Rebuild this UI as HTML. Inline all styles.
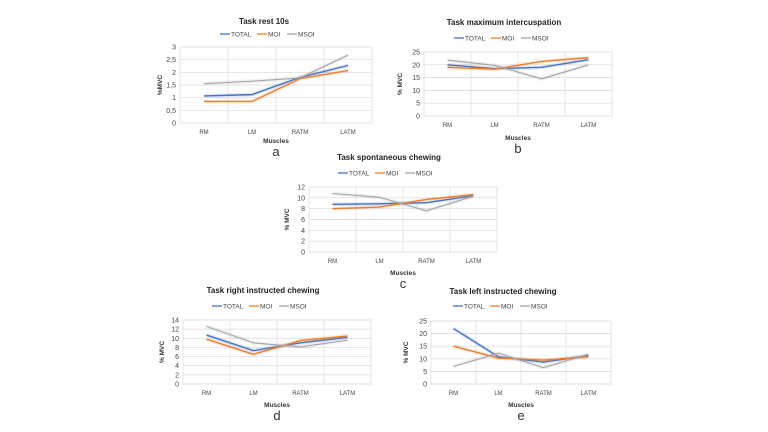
<!DOCTYPE html>
<html><head><meta charset="utf-8"><style>
html,body{margin:0;padding:0;background:#fff;}
svg{display:block;font-family:"Liberation Sans",sans-serif;}
</style></head><body>
<svg id="fig" width="768" height="432" viewBox="0 0 768 432"></svg>
<script>
const categories=["RM","LM","RATM","LATM"];
const seriesNames=["TOTAL","MOI","MSOI"];
const aTotal=[1.07,1.12,1.8,2.27], aMoi=[0.85,0.85,1.75,2.07], aMsoi=[1.55,1.65,1.78,2.68];
const bTotal=[20,18.5,19,22], bMoi=[19,18.3,21.3,22.8], bMsoi=[21.8,19.8,14.5,20];
const cTotal=[8.8,8.9,9.1,10.4], cMoi=[8,8.3,9.7,10.6], cMsoi=[10.8,10.1,7.6,10.3];
const dTotal=[10.7,7.3,9,10.2], dMoi=[9.8,6.5,9.5,10.5], dMsoi=[12.6,9,8.1,9.6];
const eTotal=[22,10.8,8.7,11.3], eMoi=[15,10.3,9.5,10.8], eMsoi=[7,12.2,6.5,11.8];
const aTicks=["0","0,5","1","1,5","2","2,5","3"];
const bTicks=["0","5","10","15","20","25"];
const cTicks=["0","2","4","6","8","10","12"];
const dTicks=["0","2","4","6","8","10","12","14"];
const eTicks=["0","5","10","15","20","25"];
const colors=["#4472c4","#ed7d31","#a5a5a5"];
const NS="http://www.w3.org/2000/svg";
const svg=document.getElementById('fig');
function mk(tag,attrs,parent){const e=document.createElementNS(NS,tag);for(const k in attrs)e.setAttribute(k,attrs[k]);(parent||svg).appendChild(e);return e;}
function txt(s,attrs,parent){const t=mk('text',attrs,parent);t.textContent=s;return t;}
function chart(id,cfg,series,ticks,max,step){
  const g=mk('g',{});
  
  
  const {x0,x1,y0,y1}=cfg;
  const xs=i=>x0+(x1-x0)*(i+0.5)/categories.length;
  const ys=v=>y0-(y0-y1)*v/max;
  const t=txt(cfg.title,{x:cfg.tx,y:cfg.ty,'font-size':8,'font-weight':'bold','text-anchor':'middle',fill:'#222'},g);
  
  
  ticks.forEach((lab,i)=>{
    const v=i*step;
    const gl=mk('line',{x1:x0,x2:x1,y1:ys(v),y2:ys(v),stroke:'#d9d9d9','stroke-width':0.7},g);
    
    
    const tl=txt(lab,{x:x0-4,y:ys(v)+2.5,'font-size':7,'text-anchor':'end',fill:'#444'},g);
    
    
  });
  for(let i=0;i<=categories.length;i++){
    const x=x0+(x1-x0)*i/categories.length;
    const vl=mk('line',{x1:x,x2:x,y1:y1,y2:y0,stroke:'#d9d9d9','stroke-width':0.7},g);
    
    
  }
  categories.forEach((c,i)=>{
    const cl=txt(c,{x:xs(i),y:y0+11,'font-size':6,'text-anchor':'middle',fill:'#444'},g);
    
    
  });
  series.forEach((vals,s)=>{
    const pts=vals.map((v,i)=>xs(i)+','+ys(v)).join(' ');
    const gl=mk('polyline',{points:pts,fill:'none',stroke:colors[s],'stroke-width':4,'stroke-opacity':0.15,'stroke-linejoin':'round'},g);
    
    
    const p=mk('polyline',{points:pts,fill:'none',stroke:colors[s],'stroke-width':s==2?1.1:1.4},g);
    
    
  });
  const lx=cfg.lx, ly=cfg.ly;
  const offs=[0,37,67];
  seriesNames.forEach((n,s)=>{
    const lg=mk('g',{},g);
    
    
    mk('line',{x1:lx+offs[s],x2:lx+offs[s]+10,y1:ly,y2:ly,stroke:colors[s],'stroke-width':1.3},lg);
    txt(n,{x:lx+offs[s]+11,y:ly+2.5,'font-size':6.5,fill:'#444'},lg);
  });
  const yl=txt(cfg.ylab||'% MVC',{x:0,y:0,'font-size':6.5,'font-weight':'bold','text-anchor':'middle',fill:'#333',transform:`translate(${cfg.ylx},${(y0+y1)/2}) rotate(-90)`},g);
  
  
  const xl=txt('Muscles',{x:(x0+x1)/2,y:cfg.mx,'font-size':6.5,'font-weight':'bold','text-anchor':'middle',fill:'#333'},g);
  
  
  const pl=txt(id,{x:(x0+x1)/2,y:cfg.mx+13,'font-size':13,'text-anchor':'middle',fill:'#333'},g);
  
  
}
chart('a',{x0:180,x1:372,y0:123,y1:47,title:'Task rest 10s',tx:264,ty:24,lx:220,ly:34,ylx:162,mx:143,ylab:'%MVC'},[aTotal,aMoi,aMsoi],aTicks,3,0.5);
chart('b',{x0:424,x1:612,y0:116,y1:52,title:'Task maximum intercuspation',tx:504,ty:25,lx:454,ly:38,ylx:402,mx:140},[bTotal,bMoi,bMsoi],bTicks,25,5);
chart('c',{x0:309,x1:497,y0:252,y1:187,title:'Task spontaneous chewing',tx:389,ty:160,lx:338,ly:173,ylx:289,mx:275},[cTotal,cMoi,cMsoi],cTicks,12,2);
chart('d',{x0:183,x1:371,y0:384,y1:320,title:'Task right instructed chewing',tx:263,ty:293,lx:212,ly:306,ylx:164,mx:407},[dTotal,dMoi,dMsoi],dTicks,14,2);
chart('e',{x0:431,x1:611,y0:384,y1:321,title:'Task left instructed chewing',tx:503,ty:294,lx:453,ly:306,ylx:408,mx:407},[eTotal,eMoi,eMsoi],eTicks,25,5);
</script>
</body></html>
